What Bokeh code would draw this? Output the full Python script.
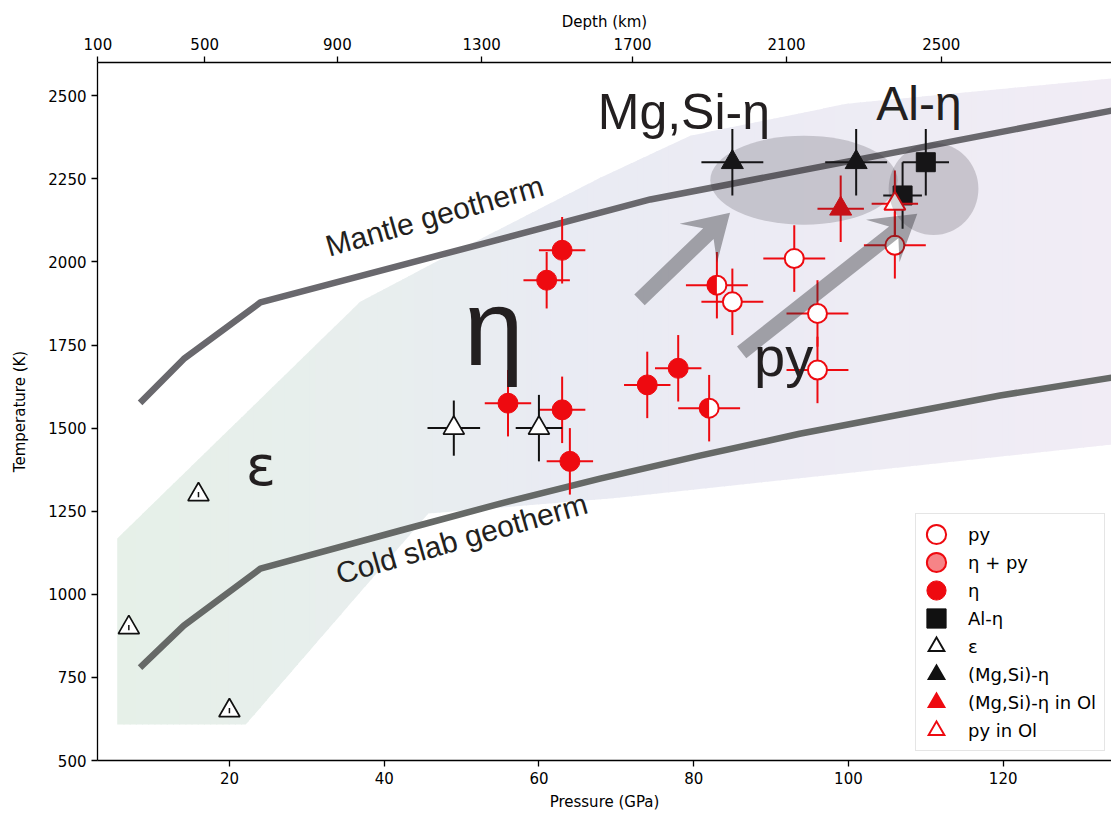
import numpy as np
from bokeh.plotting import figure
from bokeh.models import (LinearAxis, FixedTicker, Range1d, Legend, LegendItem,
                          ColumnDataSource)
from bokeh.core.properties import value
from bokeh.embed import file_html
from bokeh.resources import INLINE

# ---------------- data ----------------
py_p = [93, 96, 96, 85, 106]
py_t = [2010, 1845, 1675, 1880, 2050]
py_xerr = [4, 4, 4, 4, 4]
py_yerr = [100, 100, 100, 100, 100]

etapy_p = [83, 82]
etapy_t = [1930, 1560]
etapy_xerr = [4, 4]
etapy_yerr = [100, 100]

eta_p = [63, 61, 56, 63, 64, 74, 78]
eta_t = [2035, 1945, 1575, 1555, 1400, 1630, 1680]
eta_xerr = [3, 3, 3, 3, 3, 3, 3]
eta_yerr = [100, 85, 100, 100, 100, 100, 100]

aleta_p = [110, 107]
aleta_t = [2300, 2200]
aleta_xerr = [3, 2.5]
aleta_yerr = [100, 100]

eps_p = [49, 60, 16, 7, 20]
eps_t = [1500, 1500, 1300, 900, 650]
eps_xerr = [3.4, 3, 0, 0, 0]
eps_yerr = [83, 100, 8, 8, 8]

mgsi_p = [85, 101]
mgsi_t = [2300, 2300]
mgsi_xerr = [4, 4]
mgsi_yerr = [100, 100]

mgsiol_p = [99]
mgsiol_t = [2160]
mgsiol_xerr = [3]
mgsiol_yerr = [100]

pyol_p = [106]
pyol_t = [2175]
pyol_xerr = [3]
pyol_yerr = [100]

mantle_p = [8.75, 14.1, 24.0, 74.4, 134]
mantle_t = [1583, 1708, 1878, 2188, 2455]
slab_p = [8.75, 14.1, 24.0, 42.1, 55.0, 67.9, 80.8, 93.7, 106.7, 119.6, 134]
slab_t = [786, 906, 1077, 1192, 1273, 1348, 1417, 1483, 1541, 1598, 1652]

region_p = [5.5, 5.5, 22.1, 45.7, 70.5, 135, 135, 99.8, 79.6, 67.9, 47.0, 36.9]
region_t = [1168, 608, 608, 1243, 1291, 1453, 2554, 2476, 2380, 2253, 2004, 1880]

grad_p = [5, 40, 62, 135]
grad_rgb = [(230, 240, 232), (232, 238, 238), (233, 235, 243), (241, 236, 245)]

ell_p = [94.25, 111.0]
ell_t = [2246, 2220]
ell_w = [24.2, 11.6]
ell_h = [268, 278]

arrow_tail_p = [73.0, 86.2]
arrow_tail_t = [1886, 1728]
arrow_tip_p = [84.7, 108.9]
arrow_tip_t = [2148, 2145]

pressure_ticks = [20, 40, 60, 80, 100, 120]
temperature_ticks = [500, 750, 1000, 1250, 1500, 1750, 2000, 2250, 2500]
depth_ticks_km = [100, 500, 900, 1300, 1700, 2100, 2500]
depth_ticks_gpa = [3.0, 16.8, 33.95, 52.6, 72.1, 92.0, 112.0]

geo_lab_text = ["Mantle geotherm", "Cold slab geotherm"]
geo_lab_p = [46.5, 50.0]
geo_lab_t = [2139, 1168]
geo_lab_angle = [16, 16]

phase_lab_text = ["η", "py", "Mg,Si-η", "Al-η"]
phase_lab_p = [50.3, 87.8, 67.6, 103.6]
phase_lab_t = [1802, 1715, 2452, 2476]
phase_lab_size = ["108px", "56px", "50px", "48px"]

eps_lab_text = ["ε"]
eps_lab_p = [22.1]
eps_lab_t = [1389]

# ---------------- figure ----------------
RED = "#ee0a10"
BLACK = "#111111"
W, H = 1111, 817
BL, BR, BT, BB = 97, 0, 62, 57
X0, X1 = 2.95, 134
Y0, Y1 = 500, 2600

p = figure(width=W, height=H, x_range=Range1d(X0, X1), y_range=Range1d(Y0, Y1),
           output_backend="svg", toolbar_location=None,
           min_border_left=BL, min_border_right=BR, min_border_top=BT,
           min_border_bottom=BB, outline_line_color=None,
           background_fill_color="white", border_fill_color="white")
p.grid.visible = False

sx = (W - BL - BR) / (X1 - X0)
sy = (H - BT - BB) / (Y1 - Y0)

# ---------------- gradient region ----------------
def clip_strip(poly, xa, xb):
    def clip(pts, inside, inter):
        out = []
        for i in range(len(pts)):
            cur, prev = pts[i], pts[i - 1]
            if inside(cur):
                if not inside(prev):
                    out.append(inter(prev, cur))
                out.append(cur)
            elif inside(prev):
                out.append(inter(prev, cur))
        return out

    def ix(a, b, xv):
        t = (xv - a[0]) / (b[0] - a[0])
        return (xv, a[1] + t * (b[1] - a[1]))

    pts = clip(poly, lambda q: q[0] >= xa, lambda a, b: ix(a, b, xa))
    if not pts:
        return []
    return clip(pts, lambda q: q[0] <= xb, lambda a, b: ix(a, b, xb))

poly = list(zip(region_p, region_t))
sxs, sys_, scol = [], [], []
edges = np.arange(min(region_p), max(region_p), 0.8)
gr = np.array(grad_rgb, float)
for a in edges:
    pts = clip_strip(poly, a, a + 0.95)
    if len(pts) < 3:
        continue
    mid = a + 0.4
    c = [int(round(np.interp(mid, grad_p, gr[:, k]))) for k in range(3)]
    sxs.append([q[0] for q in pts])
    sys_.append([q[1] for q in pts])
    scol.append("#%02x%02x%02x" % tuple(c))
p.patches(sxs, sys_, fill_color=scol, line_color=None)

# ---------------- geotherms ----------------
p.line(mantle_p, mantle_t, line_width=6.5, line_color="#69686d", line_join="round", line_cap="square")
p.line(slab_p, slab_t, line_width=6.5, line_color="#666967", line_join="round", line_cap="square")

# ---------------- legend-only glyphs (zero size, hidden under the markers) ----------------
leg_half = p.ellipse(etapy_p, etapy_t, width=0.001, height=0.001, width_units="screen",
                     height_units="screen", fill_color=RED, fill_alpha=0.5,
                     line_color=RED, line_width=2)

def leg_tri(px, pt, color, hollow):
    outer = p.scatter(px, pt, marker="triangle", size=0, fill_color=color,
                      line_color=color, line_width=5.5, line_join="miter")
    rs = [outer]
    if hollow:
        rs.append(p.scatter(px, pt, marker="triangle", size=0, fill_color="white",
                            line_color="white", line_width=1.6, line_join="miter"))
    return rs

leg_eps = leg_tri(eps_p, eps_t, BLACK, True)
leg_mgsi = leg_tri(mgsi_p, mgsi_t, BLACK, False)
leg_mgsiol = leg_tri(mgsiol_p, mgsiol_t, RED, False)
leg_pyol = leg_tri(pyol_p, pyol_t, RED, True)

# ---------------- data series ----------------
def errbars(px, pt, xe, ye, color, lw=2):
    px = np.asarray(px, float); pt = np.asarray(pt, float)
    xe = np.asarray(xe, float); ye = np.asarray(ye, float)
    p.segment(x0=px - xe, y0=pt, x1=px + xe, y1=pt, line_color=color, line_width=lw)
    p.segment(x0=px, y0=pt - ye, x1=px, y1=pt + ye, line_color=color, line_width=lw)

MS = 19  # marker diameter (screen px)

errbars(py_p, py_t, py_xerr, py_yerr, RED)
r_py = p.ellipse(py_p, py_t, width=MS, height=MS, width_units="screen", height_units="screen",
                 fill_color="white", line_color=RED, line_width=2)

errbars(etapy_p, etapy_t, etapy_xerr, etapy_yerr, RED)
p.ellipse(etapy_p, etapy_t, width=MS, height=MS, width_units="screen", height_units="screen",
          fill_color="white", line_color=None)
p.wedge(x=etapy_p, y=etapy_t, radius=MS / 2, radius_units="screen",
        start_angle=np.pi / 2, end_angle=3 * np.pi / 2, fill_color=RED, line_color=None)
p.ellipse(etapy_p, etapy_t, width=MS, height=MS, width_units="screen", height_units="screen",
          fill_color=None, line_color=RED, line_width=2)

errbars(eta_p, eta_t, eta_xerr, eta_yerr, RED)
r_eta = p.ellipse(eta_p, eta_t, width=MS + 1, height=MS + 1, width_units="screen",
                  height_units="screen", fill_color=RED, line_color=RED)

errbars(aleta_p, aleta_t, aleta_xerr, aleta_yerr, BLACK)
r_al = p.rect(aleta_p, aleta_t, width=MS, height=MS, width_units="screen",
              height_units="screen", fill_color=BLACK, line_color=BLACK)

errbars(eps_p, eps_t, eps_xerr, eps_yerr, BLACK)
p.scatter(eps_p, eps_t, marker="triangle", size=21, fill_color="white",
          line_color=BLACK, line_width=1.7)
# tiny error bars of the low-pressure points remain visible inside their markers
small = [i for i in range(len(eps_p)) if eps_yerr[i] < 20]
errbars([eps_p[i] for i in small], [eps_t[i] for i in small],
        [eps_xerr[i] for i in small], [eps_yerr[i] for i in small], BLACK, lw=1.5)

errbars(mgsi_p, mgsi_t, mgsi_xerr, mgsi_yerr, BLACK)
p.scatter(mgsi_p, mgsi_t, marker="triangle", size=22, fill_color=BLACK, line_color=BLACK)

errbars(mgsiol_p, mgsiol_t, mgsiol_xerr, mgsiol_yerr, RED)
p.scatter(mgsiol_p, mgsiol_t, marker="triangle", size=22, fill_color=RED, line_color=RED)

errbars(pyol_p, pyol_t, pyol_xerr, pyol_yerr, RED)
p.scatter(pyol_p, pyol_t, marker="triangle", size=21, fill_color="white",
          line_color=RED, line_width=2)

# ---------------- ellipses & arrows (on top, translucent) ----------------
p.ellipse(x=ell_p, y=ell_t, width=ell_w, height=ell_h, fill_color="#2b2930",
          fill_alpha=0.2, line_color=None)

def arrow_poly(x0, y0, x1, y1, w=15, hl=44, hw=27, neck=30):
    A = np.array([x0 * sx, y0 * sy]); B = np.array([x1 * sx, y1 * sy])
    d = B - A; L = np.hypot(*d); u = d / L; n = np.array([-u[1], u[0]])
    loc = [(0, -w / 2), (L - neck, -w / 2), (L - hl, -hw), (L, 0),
           (L - hl, hw), (L - neck, w / 2), (0, w / 2)]
    pts = [A + a * u + b * n for a, b in loc]
    return [q[0] / sx for q in pts], [q[1] / sy for q in pts]

axs, ays = [], []
for i in range(len(arrow_tail_p)):
    xs_, ys_ = arrow_poly(arrow_tail_p[i], arrow_tail_t[i], arrow_tip_p[i], arrow_tip_t[i])
    axs.append(xs_); ays.append(ys_)
p.patches(axs, ays, fill_color="#2e2c33", fill_alpha=0.4, line_color=None)

# ---------------- labels ----------------
geo_src = ColumnDataSource(dict(x=geo_lab_p, y=geo_lab_t, text=geo_lab_text,
                                angle=[np.deg2rad(a) for a in geo_lab_angle]))
p.text(x="x", y="y", text="text", angle="angle", source=geo_src,
       text_font=value("Liberation Sans"), text_font_size="30px",
       text_color="#231f20", text_align="center", text_baseline="middle")

ph_src = ColumnDataSource(dict(x=phase_lab_p, y=phase_lab_t, text=phase_lab_text,
                               size=phase_lab_size))
p.text(x="x", y="y", text="text", source=ph_src, text_font=value("Liberation Sans"),
       text_font_size="size", text_color="#231f20", text_align="left",
       text_baseline="alphabetic")
p.text(x=eps_lab_p, y=eps_lab_t, text=eps_lab_text, text_font=value("DejaVu Sans"),
       text_font_size="56px", text_color="#231f20", text_align="left",
       text_baseline="alphabetic")

# ---------------- axes ----------------
FONT = "DejaVu Sans"
def style_axis(ax):
    ax.axis_line_color = "black"
    ax.axis_line_width = 1.3
    ax.major_tick_line_color = "black"
    ax.major_tick_line_width = 1.3
    ax.major_tick_out = 6
    ax.major_tick_in = 0
    ax.minor_tick_line_color = None
    ax.major_label_text_font = FONT
    ax.major_label_text_font_size = "15px"
    ax.major_label_text_color = "black"
    ax.axis_label_text_font = FONT
    ax.axis_label_text_font_size = "15px"
    ax.axis_label_text_font_style = "normal"
    ax.axis_label_text_color = "black"

xa = p.xaxis[0]
xa.ticker = FixedTicker(ticks=pressure_ticks)
xa.axis_label = "Pressure (GPa)"
style_axis(xa)
xa.major_label_standoff = 5
xa.axis_label_standoff = 6

ya = p.yaxis[0]
ya.ticker = FixedTicker(ticks=temperature_ticks)
ya.axis_label = "Temperature (K)"
style_axis(ya)
ya.major_label_standoff = 5
ya.axis_label_standoff = 16

top = LinearAxis(ticker=FixedTicker(ticks=depth_ticks_gpa),
                 major_label_overrides={float(g): str(d) for g, d in zip(depth_ticks_gpa, depth_ticks_km)},
                 axis_label="Depth (km)")
style_axis(top)
top.major_label_standoff = 7
top.axis_label_standoff = 4
p.add_layout(top, "above")

# ---------------- legend ----------------
items = [
    LegendItem(label="py", renderers=[r_py]),
    LegendItem(label="η + py", renderers=[leg_half]),
    LegendItem(label="η", renderers=[r_eta]),
    LegendItem(label="Al-η", renderers=[r_al]),
    LegendItem(label="ε", renderers=leg_eps),
    LegendItem(label="(Mg,Si)-η", renderers=leg_mgsi),
    LegendItem(label="(Mg,Si)-η in Ol", renderers=leg_mgsiol),
    LegendItem(label="py in Ol", renderers=leg_pyol),
]
legend = Legend(items=items, location=(818, 9), glyph_width=24, glyph_height=24,
                label_height=24, spacing=4, padding=8, margin=0, label_standoff=20,
                label_text_font=FONT, label_text_font_size="18px",
                label_text_color="black",
                border_line_color="#cccccc", border_line_width=1,
                background_fill_color="white", background_fill_alpha=0.85)
p.add_layout(legend)

open("out.html", "w").write(file_html(p, INLINE))
